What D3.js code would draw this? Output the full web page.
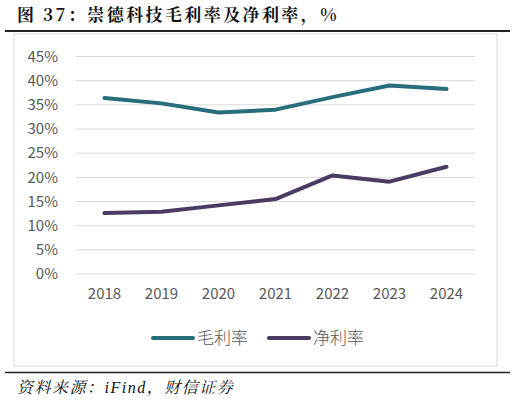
<!DOCTYPE html>
<html>
<head>
<meta charset="utf-8">
<script src="https://cdn.jsdelivr.net/npm/d3@7"></script>
<style>
  body { margin: 0; background: #fff; }
  svg { display: block; }
</style>
</head>
<body>
<svg id="chart" width="515" height="404"></svg>
<script>
const years = ["2018", "2019", "2020", "2021", "2022", "2023", "2024"];
const grossMargin = [36.4, 35.3, 33.4, 34.0, 36.6, 39.0, 38.3];
const netMargin = [12.6, 12.9, 14.2, 15.5, 20.4, 19.1, 22.2];
const yTicks = [0, 5, 10, 15, 20, 25, 30, 35, 40, 45];

const series = [
  { name: "毛利率", values: grossMargin, color: "#276d7b" },
  { name: "净利率", values: netMargin, color: "#4b3a62" }
];

const svg = d3.select("#chart");
const cjk = "'Noto Sans CJK SC', 'Noto Sans', sans-serif";

// title + rules
svg.append("text")
  .attr("x", 17).attr("y", 21)
  .attr("font-family", "'Noto Serif CJK SC', 'Noto Sans CJK SC', serif")
  .attr("font-weight", "bold")
  .attr("font-size", 17)
  .attr("letter-spacing", 2.4)
  .attr("fill", "#111")
  .text("图 37：崇德科技毛利率及净利率，%");

svg.append("line")
  .attr("x1", 5).attr("x2", 510).attr("y1", 31).attr("y2", 31)
  .attr("stroke", "#222").attr("stroke-width", 2);

svg.append("rect")
  .attr("x", 14).attr("y", 34).attr("width", 483).attr("height", 332)
  .attr("fill", "none").attr("stroke", "#d9d9d9").attr("stroke-width", 1);

svg.append("line")
  .attr("x1", 5).attr("x2", 510).attr("y1", 372.5).attr("y2", 372.5)
  .attr("stroke", "#222").attr("stroke-width", 1.5);

svg.append("text")
  .attr("x", 17).attr("y", 393)
  .attr("font-family", "'Liberation Serif', 'Noto Serif CJK SC', serif")
  .attr("font-style", "italic")
  .attr("font-size", 16)
  .attr("letter-spacing", 1.5)
  .attr("fill", "#111")
  .text("资料来源：iFind，财信证券");

// scales
const x = d3.scaleBand().domain(years).range([76, 475]);
const y = d3.scaleLinear().domain([0, 45]).range([274, 56.5]);

// grid
svg.append("g")
  .selectAll("line")
  .data(yTicks)
  .join("line")
  .attr("x1", 76).attr("x2", 475)
  .attr("y1", d => y(d)).attr("y2", d => y(d))
  .attr("stroke", "#d9d9d9").attr("stroke-width", 1);

// y axis
const yAxis = svg.append("g")
  .attr("transform", "translate(58,0)")
  .call(d3.axisLeft(y).tickValues(yTicks).tickSize(0).tickPadding(0).tickFormat(d => d + "%"));
yAxis.select(".domain").remove();
yAxis.selectAll("text")
  .attr("font-family", cjk).attr("font-size", 15).attr("fill", "#595959");

// x axis
const xAxis = svg.append("g")
  .attr("transform", "translate(0,288)")
  .call(d3.axisBottom(x).tickSize(0).tickPadding(0));
xAxis.select(".domain").remove();
xAxis.selectAll("text")
  .attr("font-family", cjk).attr("font-size", 15).attr("fill", "#595959");

// lines
const line = d3.line()
  .x((d, i) => x(years[i]) + x.bandwidth() / 2)
  .y(d => y(d));

svg.append("g")
  .selectAll("path")
  .data(series)
  .join("path")
  .attr("d", d => line(d.values))
  .attr("fill", "none")
  .attr("stroke", d => d.color)
  .attr("stroke-width", 4)
  .attr("stroke-linecap", "round")
  .attr("stroke-linejoin", "round");

// legend
const legendX = [153, 269];
const lg = svg.append("g")
  .selectAll("g")
  .data(series)
  .join("g")
  .attr("transform", (d, i) => `translate(${legendX[i]},338)`);
lg.append("line")
  .attr("x1", 0).attr("x2", 40)
  .attr("stroke", d => d.color).attr("stroke-width", 4)
  .attr("stroke-linecap", "round");
lg.append("text")
  .attr("x", 44).attr("dy", "0.35em")
  .attr("font-family", cjk).attr("font-size", 17).attr("font-weight", 300)
  .attr("fill", "#595959")
  .text(d => d.name);
</script>
</body>
</html>
